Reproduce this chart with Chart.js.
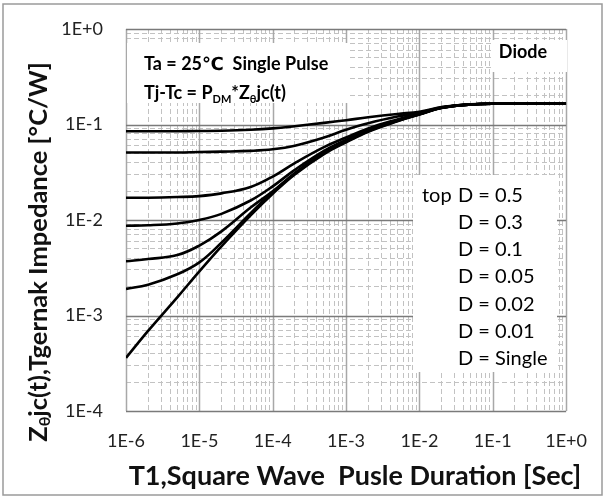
<!DOCTYPE html>
<html>
<head>
<meta charset="utf-8">
<script src="https://cdn.jsdelivr.net/npm/chart.js@4.4.0/dist/chart.umd.min.js"></script>
<style>
  html, body { margin: 0; padding: 0; background: #fff; }
  #wrap { width: 606px; height: 500px; }
</style>
</head>
<body>
<div id="wrap"><canvas id="zthChart"></canvas></div>
<script>
// pulse duration T1 [s]
const pulseTimes = [1e-6, 2e-6, 5e-6, 1e-5, 2e-5, 5e-5, 1e-4, 2e-4, 5e-4, 1e-3, 2e-3, 5e-3, 1e-2, 2e-2, 5e-2, 1e-1, 1];

// Zθjc(t) [°C/W] per duty cycle
const zthD05    = [0.085, 0.085, 0.085, 0.0855, 0.086, 0.088, 0.091, 0.096, 0.104, 0.111, 0.119, 0.129, 0.136, 0.152, 0.163, 0.165, 0.165];
const zthD03    = [0.051, 0.051, 0.051, 0.0515, 0.052, 0.053, 0.055, 0.060, 0.073, 0.088, 0.103, 0.121, 0.133, 0.151, 0.162, 0.165, 0.165];
const zthD01    = [0.0171, 0.0171, 0.0174, 0.0178, 0.019, 0.0222, 0.0285, 0.0395, 0.058, 0.073, 0.091, 0.113, 0.130, 0.150, 0.162, 0.165, 0.165];
const zthD005   = [0.0087, 0.0088, 0.0092, 0.0100, 0.0116, 0.0160, 0.0225, 0.0335, 0.053, 0.069, 0.088, 0.111, 0.129, 0.150, 0.162, 0.165, 0.165];
const zthD002   = [0.0037, 0.0039, 0.0043, 0.0054, 0.0076, 0.0135, 0.020, 0.031, 0.051, 0.067, 0.086, 0.110, 0.128, 0.150, 0.162, 0.165, 0.165];
const zthD001   = [0.0019, 0.0021, 0.0027, 0.0036, 0.0058, 0.0118, 0.0195, 0.0305, 0.0500, 0.066, 0.085, 0.109, 0.128, 0.150, 0.162, 0.165, 0.165];
const zthSingle = [0.00036, 0.00069, 0.00155, 0.0029, 0.0053, 0.0112, 0.0188, 0.030, 0.049, 0.065, 0.084, 0.108, 0.127, 0.149, 0.162, 0.165, 0.165];

const dutyLabels = ['D = 0.5', 'D = 0.3', 'D = 0.1', 'D = 0.05', 'D = 0.02', 'D = 0.01', 'D = Single'];

// decades shown on each axis
const xExponents = [-6, -5, -4, -3, -2, -1, 0];
const yExponents = [-4, -3, -2, -1, 0];

const FONT = 'Lato, "DejaVu Sans", sans-serif';

function logTicks(exps) {
  const ticks = [];
  exps.forEach((e, i) => {
    ticks.push({ value: Math.pow(10, e), major: true });
    if (i < exps.length - 1) {
      for (let m = 2; m <= 9; m++) ticks.push({ value: m * Math.pow(10, e), major: false });
    }
  });
  return ticks;
}

function expLabel(v) {
  const e = Math.round(Math.log10(v));
  return '1E' + (e >= 0 ? '+' : '-') + Math.abs(e);
}

// draws a run of text pieces, some of them as subscripts
function richText(ctx, parts, x, y, size, weight) {
  let cx = x;
  parts.forEach(p => {
    const s = p.sub ? Math.round(size * 0.62) : size;
    ctx.font = weight + ' ' + s + 'px ' + FONT;
    ctx.fillText(p.t, cx, y + (p.sub ? size * 0.22 : 0));
    cx += ctx.measureText(p.t).width;
  });
  return cx - x;
}

function richWidth(ctx, parts, size, weight) {
  let w = 0;
  parts.forEach(p => {
    const s = p.sub ? Math.round(size * 0.62) : size;
    ctx.font = weight + ' ' + s + 'px ' + FONT;
    w += ctx.measureText(p.t).width;
  });
  return w;
}

const panel = {
  id: 'panel',
  beforeDraw(chart) {
    const ctx = chart.ctx;
    ctx.save();
    ctx.fillStyle = '#fff';
    ctx.fillRect(0, 0, chart.width, chart.height);
    ctx.strokeStyle = '#9a9a9a';
    ctx.lineWidth = 1.5;
    ctx.strokeRect(3, 4, 599, 491);
    ctx.restore();
  },
  beforeDatasetsDraw(chart) {
    const { ctx, chartArea: ca, scales: { x, y } } = chart;
    ctx.save();
    // solid decade lines
    ctx.lineWidth = 1.5;
    ctx.strokeStyle = '#a8a8a8';
    xExponents.forEach(e => {
      const px = Math.round(x.getPixelForValue(Math.pow(10, e))) + 0.5;
      ctx.beginPath(); ctx.moveTo(px, ca.top); ctx.lineTo(px, ca.bottom); ctx.stroke();
    });
    ctx.strokeStyle = '#7a7a7a';
    yExponents.forEach(e => {
      const py = Math.round(y.getPixelForValue(Math.pow(10, e))) + 0.5;
      ctx.beginPath(); ctx.moveTo(ca.left, py); ctx.lineTo(ca.right, py); ctx.stroke();
    });

    // note boxes
    ctx.fillStyle = '#fff';
    ctx.fillRect(ca.left + 1, ca.top + 14, 222, 60);
    ctx.fillRect(ca.left + 366, ca.top + 11, 75, 32);
    ctx.fillRect(ca.left + 287, ca.top + 146, 144, 197);

    ctx.fillStyle = '#000';
    ctx.textAlign = 'left';
    ctx.textBaseline = 'alphabetic';
    richText(ctx, [{ t: 'Ta = 25℃  Single Pulse' }], ca.left + 18, ca.top + 41, 18, 'bold');
    richText(ctx, [{ t: 'Tj-Tc = P' }, { t: 'DM', sub: true }, { t: '*Z' }, { t: 'θ', sub: true }, { t: 'jc(t)' }],
      ca.left + 18, ca.top + 70, 18, 'bold');

    ctx.textAlign = 'center';
    ctx.font = 'bold 18px ' + FONT;
    ctx.fillText('Diode', ca.left + 397, ca.top + 29);

    ctx.textAlign = 'left';
    ctx.font = '20px ' + FONT;
    ctx.fillText('top', ca.left + 296, ca.top + 172.5);
    dutyLabels.forEach((s, i) => {
      ctx.fillText(s, ca.left + 332, ca.top + 172.5 + i * 27.3);
    });
    ctx.restore();
  },
  afterDraw(chart) {
    const ctx = chart.ctx;
    ctx.save();
    ctx.fillStyle = '#111';

    // x axis title
    ctx.textAlign = 'center';
    ctx.textBaseline = 'alphabetic';
    ctx.font = 'bold 27px ' + FONT;
    ctx.fillText('T1,Square Wave  Pusle Duration [Sec]', 355, 485);

    // y axis title, with subscript θ
    const parts = [{ t: 'Z' }, { t: 'θ', sub: true }, { t: 'jc(t),Tgernak Impedance [°C/W]' }];
    ctx.translate(39, 252);
    ctx.rotate(-Math.PI / 2);
    ctx.textAlign = 'left';
    ctx.textBaseline = 'middle';
    const w = richWidth(ctx, parts, 25.5, 'bold');
    richText(ctx, parts, -w / 2, 0, 25.5, 'bold');
    ctx.restore();
  }
};

const series = [zthD05, zthD03, zthD01, zthD005, zthD002, zthD001, zthSingle];

new Chart(document.getElementById('zthChart'), {
  type: 'line',
  data: {
    datasets: series.map((vals, k) => ({
      label: dutyLabels[k],
      data: pulseTimes.map((t, i) => ({ x: t, y: vals[i] })),
      borderColor: '#000',
      borderWidth: 2.6,
      pointRadius: 0,
      fill: false,
      tension: 0.4
    }))
  },
  options: {
    responsive: true,
    maintainAspectRatio: false,
    animation: false,
    layout: { padding: { left: 0, top: 29, right: 33, bottom: 0 } },
    plugins: {
      legend: { display: false },
      tooltip: { enabled: false }
    },
    scales: {
      x: {
        type: 'logarithmic',
        min: 1e-6,
        max: 1,
        afterBuildTicks: s => { s.ticks = logTicks(xExponents); },
        afterFit: s => { s.height = 89; },
        border: { display: false, dash: [5, 3] },
        grid: {
          drawTicks: false,
          lineWidth: 1,
          color: c => (c.tick && c.tick.major) ? 'rgba(0,0,0,0)' : '#c2c2c2'
        },
        ticks: {
          autoSkip: false,
          maxRotation: 0,
          padding: 19,
          color: '#222',
          font: { family: FONT, size: 18 },
          callback: (v, i, ticks) => ticks[i].major ? expLabel(v) : ''
        }
      },
      y: {
        type: 'logarithmic',
        min: 1e-4,
        max: 1,
        afterBuildTicks: s => { s.ticks = logTicks(yExponents); },
        afterFit: s => {
          s.width = 126;
          // keep the label padding from pushing the plot area down
          s.paddingTop = 0;
          s.paddingBottom = 0;
        },
        border: { display: false, dash: [5, 3] },
        grid: {
          drawTicks: false,
          lineWidth: 1,
          color: c => (c.tick && c.tick.major) ? 'rgba(0,0,0,0)' : '#c2c2c2'
        },
        ticks: {
          autoSkip: false,
          padding: 23,
          color: '#222',
          font: { family: FONT, size: 18 },
          callback: (v, i, ticks) => ticks[i].major ? expLabel(v) : ''
        }
      }
    }
  },
  plugins: [panel]
});
</script>
</body>
</html>
